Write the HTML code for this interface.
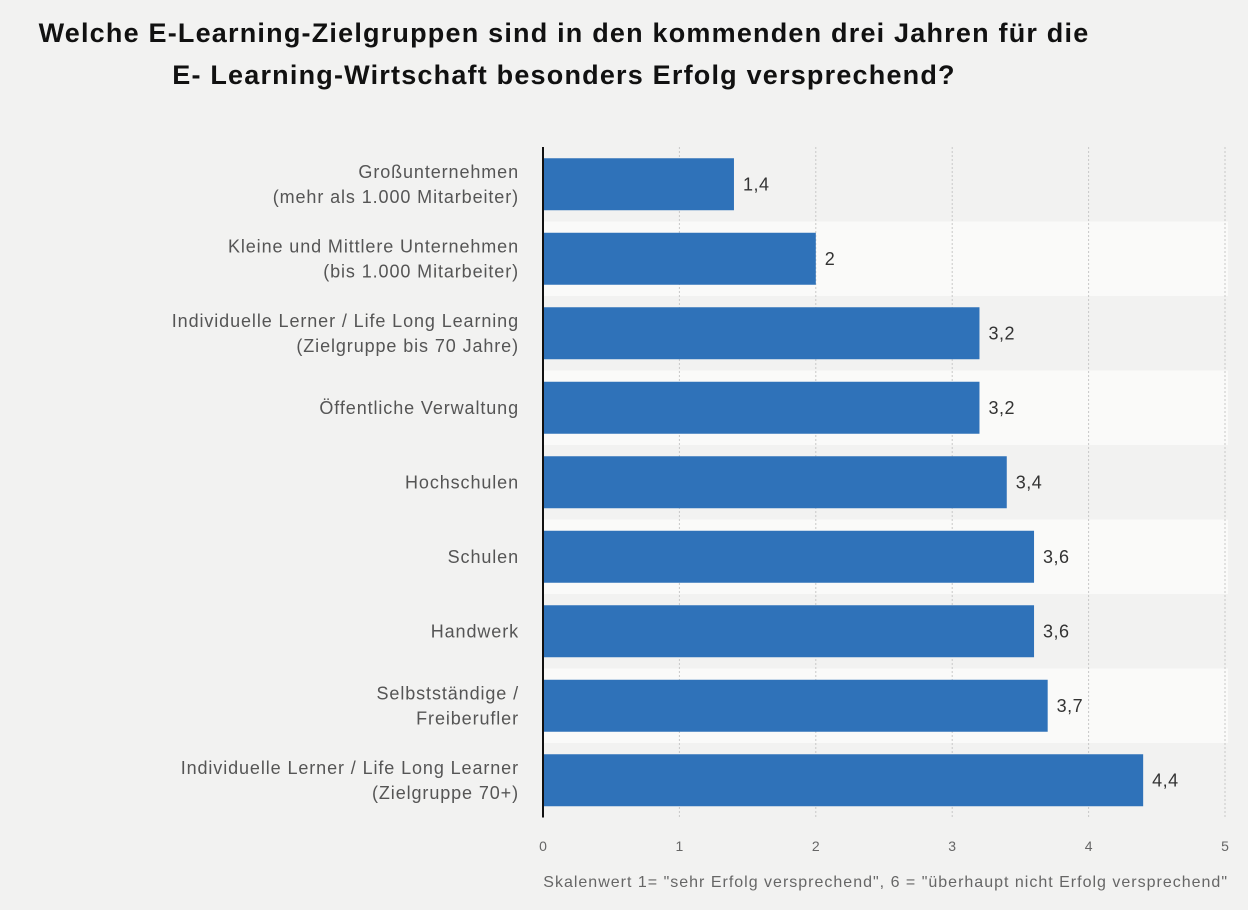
<!DOCTYPE html>
<html><head><meta charset="utf-8"><style>
body{margin:0;background:#f2f2f1;width:1248px;height:910px;overflow:hidden;font-family:"Liberation Sans",sans-serif}
#t{position:absolute;left:0;width:1128px;text-align:center;font-weight:bold;font-size:27px;letter-spacing:1.2px;color:#111;line-height:42px;top:12px}
</style></head><body>
<div id="t">Welche E-Learning-Zielgruppen sind in den kommenden drei Jahren für die<br>E- Learning-Wirtschaft besonders Erfolg versprechend?</div>
<svg id="c" width="1248" height="910" style="position:absolute;left:0;top:0"></svg>
<script>
const categories=[["Großunternehmen","(mehr als 1.000 Mitarbeiter)"],["Kleine und Mittlere Unternehmen ","(bis 1.000 Mitarbeiter)"],["Individuelle Lerner / Life Long Learning","(Zielgruppe bis 70 Jahre)"],["Öffentliche Verwaltung"],["Hochschulen"],["Schulen"],["Handwerk"],["Selbstständige / ","Freiberufler"],["Individuelle Lerner / Life Long Learner","(Zielgruppe 70+)"]];
const values=[1.4,2,3.2,3.2,3.4,3.6,3.6,3.7,4.4];
const valueLabels=["1,4","2","3,2","3,2","3,4","3,6","3,6","3,7","4,4"];
const ticks=[0,1,2,3,4,5];
const svg=document.getElementById('c');const NS='http://www.w3.org/2000/svg';
const x0=543,xs=136.4,top0=147,rowH=74.5,barH=52;
const X=v=>x0+v*xs, Y=i=>top0+i*rowH;
function mk(t,a,p){const e=document.createElementNS(NS,t);for(const k in a)e.setAttribute(k,a[k]);(p||svg).appendChild(e);return e;}
categories.forEach((c,i)=>{if(i%2==1){const b=mk('rect',{x:x0,y:Y(i),width:685,height:rowH,fill:'#fafaf9'});

}});
ticks.forEach(t=>{if(t>0){const l=mk('line',{x1:X(t),x2:X(t),y1:top0,y2:top0+9*rowH,stroke:'#c8c8c8','stroke-dasharray':'2,2'});

}
const tx=mk('text',{x:X(t),y:851,'font-size':14,fill:'#666','text-anchor':'middle'});tx.textContent=t;

});
values.forEach((v,i)=>{const cy=Y(i)+rowH/2;
const r=mk('rect',{x:x0,y:cy-barH/2,width:X(v)-x0,height:barH,fill:'#2f72b9'});


const t=mk('text',{x:X(v)+9,y:cy+6,'font-size':18,'letter-spacing':0.5,fill:'#333'});t.textContent=valueLabels[i];


const c=categories[i];c.forEach((s,j)=>{const l=mk('text',{x:519,y:cy+6+(j-(c.length-1)/2)*25,'font-size':18,'letter-spacing':0.9,fill:'#555','text-anchor':'end','xml:space':'preserve'});l.textContent=s;

});});
const ax=mk('line',{x1:x0,x2:x0,y1:top0,y2:top0+9*rowH,stroke:'#111','stroke-width':2});


const n=mk('text',{x:1228,y:887,'font-size':16,'letter-spacing':1,fill:'#666','text-anchor':'end'});n.textContent='Skalenwert 1= "sehr Erfolg versprechend", 6 = "überhaupt nicht Erfolg versprechend"';


</script></body></html>
